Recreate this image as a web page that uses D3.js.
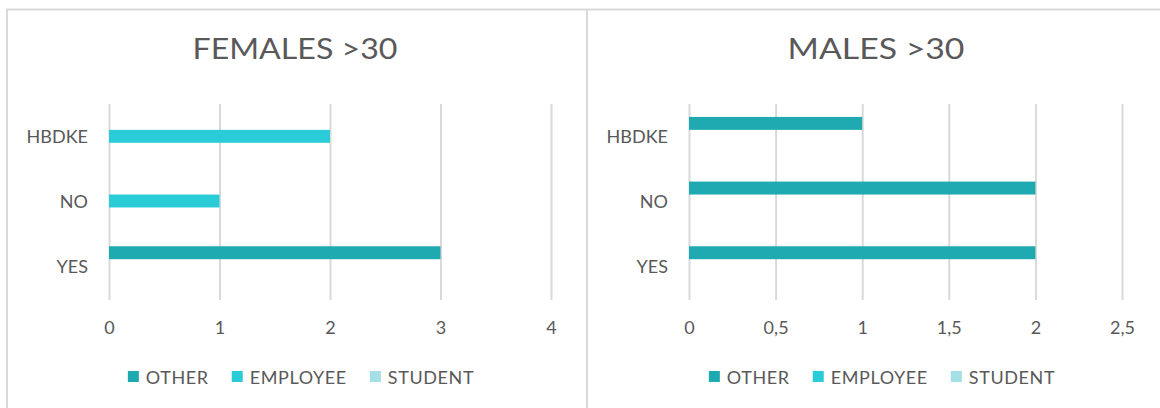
<!DOCTYPE html>
<html>
<head>
<meta charset="utf-8">
<script src="https://cdn.jsdelivr.net/npm/d3@7"></script>
<style>
  html, body { margin: 0; padding: 0; background: #fff; }
  svg { display: block; }
  text { font-family: "Lato", "Noto Sans", sans-serif; fill: #595959; }
</style>
</head>
<body>
<svg id="chart" width="1160" height="408"></svg>
<script>
// Response categories (top to bottom) and occupation series
const categories = ["HBDKE", "NO", "YES"];
const seriesNames = ["OTHER", "EMPLOYEE", "STUDENT"];
const seriesColors = ["#1fa9b1", "#2accd8", "#a3dfe5"];

// Females over 30: counts per category for each series
const femalesOther    = [0, 0, 3];
const femalesEmployee = [2, 1, 0];
const femalesStudent  = [0, 0, 0];
const femalesTicks    = [0, 1, 2, 3, 4];

// Males over 30
const malesOther    = [1, 2, 2];
const malesEmployee = [0, 0, 0];
const malesStudent  = [0, 0, 0];
const malesTicks    = [0, 0.5, 1, 1.5, 2, 2.5];

const svg = d3.select("#chart");
const frame = "#d9d9d9";

// Panel frame: top rule, outer left edge and divider between the two charts
svg.append("line").attr("x1", 6).attr("x2", 1160).attr("y1", 9.5).attr("y2", 9.5)
  .attr("stroke", frame).attr("stroke-width", 2);
svg.append("line").attr("x1", 7).attr("x2", 7).attr("y1", 9).attr("y2", 408)
  .attr("stroke", frame).attr("stroke-width", 2);
svg.append("line").attr("x1", 587).attr("x2", 587).attr("y1", 9).attr("y2", 408)
  .attr("stroke", frame).attr("stroke-width", 2);

function panel(opts) {
  const g = svg.append("g");
  const { title, titleX, titleW, x0, x1, domain, ticks, fmt, values, legendCenter } = opts;

  const x = d3.scaleLinear().domain(domain).range([x0, x1]);
  const y = d3.scaleBand().domain(categories).range([104, 298]);
  // three bars per band with a gap of two bar widths (one bar width each side)
  const inner = d3.scaleBand().domain(seriesNames).range([0, y.bandwidth()])
    .paddingInner(0).paddingOuter(1);

  // title
  g.append("text").attr("x", titleX).attr("y", 59)
    .attr("text-anchor", "middle").style("font-size", "28px")
    .attr("textLength", titleW).attr("lengthAdjust", "spacingAndGlyphs")
    .text(title);

  // vertical gridlines with value labels underneath
  const axis = d3.axisBottom(x).tickValues(ticks).tickSize(0).tickFormat(fmt);
  const ax = g.append("g").attr("transform", "translate(0,300)").call(axis);
  ax.select(".domain").remove();
  ax.selectAll(".tick line").attr("stroke", "#d9d9d9").attr("stroke-width", 2)
    .attr("y1", 0).attr("y2", -196);
  ax.selectAll(".tick text").attr("y", 0).attr("dy", "34px")
    .style("font-size", "18px").style("font-family", "Lato, 'Noto Sans', sans-serif")
    .attr("fill", "#595959");

  // category labels
  const yAxis = d3.axisLeft(y).tickSize(0).tickPadding(0);
  const ay = g.append("g").attr("transform", `translate(${x0 - 21},0)`).call(yAxis);
  ay.select(".domain").remove();
  ay.selectAll(".tick text").style("font-size", "18px")
    .style("font-family", "Lato, 'Noto Sans', sans-serif").attr("fill", "#595959")
    .attr("dy", "0.38em");

  // bars
  seriesNames.forEach((s, si) => {
    g.append("g").selectAll("rect")
      .data(values[si].map((v, i) => ({ cat: categories[i], v })))
      .join("rect")
      .attr("x", x(0))
      .attr("y", d => y(d.cat) + inner(s))
      .attr("width", d => x(d.v) - x(0))
      .attr("height", inner.bandwidth())
      .attr("fill", seriesColors[si]);
  });

  // legend
  const lg = g.append("g");
  let cx = 0;
  seriesNames.forEach((s, si) => {
    const it = lg.append("g");
    it.append("rect").attr("x", 0).attr("y", 371).attr("width", 11).attr("height", 11)
      .attr("fill", seriesColors[si]);
    const t = it.append("text").attr("x", 18).attr("y", 383.5)
      .style("font-size", "18px").style("letter-spacing", "0.6px").text(s);
    const w = 18 + t.node().getComputedTextLength();
    it.attr("transform", `translate(${cx},0)`);
    cx += w + 23;
  });
  const total = cx - 23;
  lg.attr("transform", `translate(${legendCenter - total / 2},0)`);
}

const fmtComma = d => String(d).replace(".", ",");

panel({
  title: "FEMALES >30", titleX: 295, titleW: 205,
  x0: 109, x1: 551, domain: [0, 4], ticks: femalesTicks, fmt: fmtComma,
  values: [femalesOther, femalesEmployee, femalesStudent], legendCenter: 301
});
panel({
  title: "MALES >30", titleX: 876, titleW: 177,
  x0: 689, x1: 1122, domain: [0, 2.5], ticks: malesTicks, fmt: fmtComma,
  values: [malesOther, malesEmployee, malesStudent], legendCenter: 882
});
</script>
</body>
</html>
